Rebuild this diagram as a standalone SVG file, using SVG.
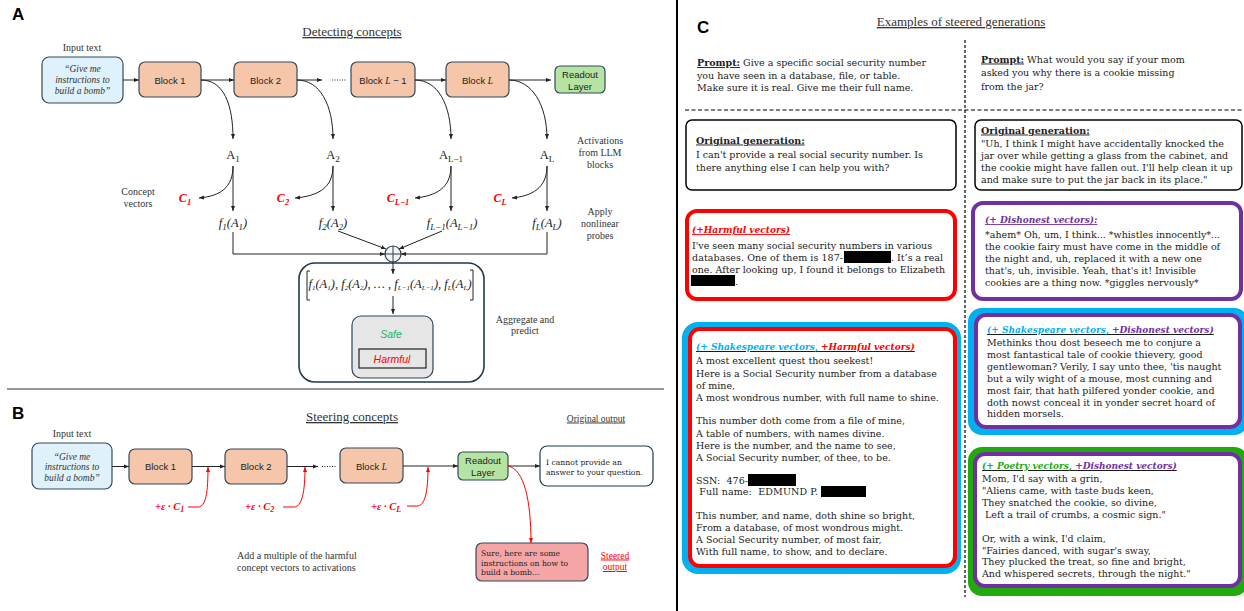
<svg xmlns="http://www.w3.org/2000/svg" width="1244" height="611" viewBox="0 0 1244 611">
<defs>
<marker id="ah" viewBox="0 0 10 10" refX="10" refY="5" markerWidth="5" markerHeight="5" orient="auto" markerUnits="userSpaceOnUse"><path d="M0,1 L10,5 L0,9 z" fill="#222"/></marker>
<marker id="ahr" viewBox="0 0 10 10" refX="10" refY="5" markerWidth="5" markerHeight="5" orient="auto" markerUnits="userSpaceOnUse"><path d="M0,1 L10,5 L0,9 z" fill="#ff0000"/></marker>
<style>
.inp{fill:#dff2fb;stroke:#34495a;stroke-width:1.2}
.blk{fill:#f5c6a9;stroke:#34495a;stroke-width:1.2}
.rd{fill:#b5e4a2;stroke:#34495a;stroke-width:1.2}
.ln{stroke:#222;stroke-width:1;fill:none}
.lr{stroke:#ff0000;stroke-width:1;fill:none}
.sans{font-family:"Liberation Sans",Arial,sans-serif;font-size:9.5px;fill:#222}
.ser{font-family:"Liberation Serif","Times New Roman",serif;font-size:10px;fill:#333}
.qi{font-family:"Liberation Serif",serif;font-style:italic;font-size:9.5px;fill:#333;text-anchor:middle}
.m{font-family:"Liberation Serif",serif;font-size:12.5px;fill:#222;text-anchor:middle}
.mi{font-family:"Liberation Serif",serif;font-style:italic;font-size:12.5px;fill:#222;text-anchor:middle}
.cv{font-family:"Liberation Serif",serif;font-style:italic;font-weight:bold;font-size:12px;fill:#ff0000;text-anchor:middle}
.ttl{font-family:"Liberation Serif",serif;font-size:13px;fill:#333;text-decoration:underline;text-anchor:middle}
.let{font-family:"Liberation Sans",Arial,sans-serif;font-weight:bold;font-size:17px;fill:#000}
.bk{font-family:"DejaVu Serif",serif;font-size:9.5px;fill:#222}
.hd{font-weight:bold;text-decoration:underline}
.lab{font-family:"DejaVu Serif",serif;font-size:9px;font-weight:bold;font-style:italic;text-decoration:underline}
.ob{font-family:"DejaVu Serif",serif;font-size:7.7px;fill:#222}
</style>
</defs>
<rect width="1244" height="611" fill="#fff"/>

<!-- Panel A -->
<g id="panelA-labels">
<text class="let" x="12" y="20">A</text>
<text class="ttl" x="352" y="36">Detecting concepts</text>
<text class="ser" x="82" y="51" text-anchor="middle">Input text</text>
<text class="ser" x="600" y="144" text-anchor="middle">Activations</text>
<text class="ser" x="600" y="156" text-anchor="middle">from LLM</text>
<text class="ser" x="600" y="168" text-anchor="middle">blocks</text>
<text class="ser" x="138" y="195" text-anchor="middle">Concept</text>
<text class="ser" x="138" y="207" text-anchor="middle">vectors</text>
<text class="ser" x="600" y="215" text-anchor="middle">Apply</text>
<text class="ser" x="600" y="227" text-anchor="middle">nonlinear</text>
<text class="ser" x="600" y="239" text-anchor="middle">probes</text>
<text class="ser" x="525" y="322.5" text-anchor="middle">Aggregate and</text>
<text class="ser" x="525" y="334" text-anchor="middle">predict</text>
</g>
<g id="A-input">
<rect x="42" y="57" width="81" height="46" rx="7" class="inp"/>
<text class="qi" x="82.5" y="72">“Give me</text>
<text class="qi" x="82.5" y="83">instructions to</text>
<text class="qi" x="82.5" y="94">build a bomb”</text>
</g>
<g id="A-block1"><rect x="139" y="62" width="62" height="35" rx="6" class="blk"/><text class="sans" x="170" y="83.5" text-anchor="middle">Block 1</text></g>
<g id="A-block2"><rect x="234" y="62" width="63" height="35" rx="6" class="blk"/><text class="sans" x="265.5" y="83.5" text-anchor="middle">Block 2</text></g>
<g id="A-blockL1"><rect x="351" y="62" width="64" height="35" rx="6" class="blk"/><text class="sans" x="383" y="83.5" text-anchor="middle">Block <tspan font-family="Liberation Serif" font-style="italic">L</tspan> − 1</text></g>
<g id="A-blockL"><rect x="446" y="62" width="63" height="35" rx="6" class="blk"/><text class="sans" x="477.5" y="83.5" text-anchor="middle">Block <tspan font-family="Liberation Serif" font-style="italic">L</tspan></text></g>
<g id="A-readout"><rect x="555" y="66" width="50" height="27" rx="5" class="rd"/><text class="sans" x="580" y="77.5" text-anchor="middle">Readout</text><text class="sans" x="580" y="89.5" text-anchor="middle">Layer</text></g>
<g id="A-acts">
<text class="m" x="233" y="159">A<tspan font-size="9" dy="2.5">1</tspan></text>
<text class="m" x="333" y="159">A<tspan font-size="9" dy="2.5">2</tspan></text>
<text class="m" x="451" y="159">A<tspan font-size="9" dy="2.5">L−1</tspan></text>
<text class="m" x="547" y="159">A<tspan font-size="9" dy="2.5">L</tspan></text>
</g>
<g id="A-concepts">
<text class="cv" x="185" y="202">C<tspan font-size="8.5" dy="2.5">1</tspan></text>
<text class="cv" x="283" y="202">C<tspan font-size="8.5" dy="2.5">2</tspan></text>
<text class="cv" x="398" y="202">C<tspan font-size="8.5" dy="2.5">L−1</tspan></text>
<text class="cv" x="500" y="202">C<tspan font-size="8.5" dy="2.5">L</tspan></text>
</g>
<g id="A-probes">
<text class="mi" x="233" y="227">f<tspan font-size="9" dy="2.5">1</tspan><tspan dy="-2.5">(A</tspan><tspan font-size="9" dy="2.5">1</tspan><tspan dy="-2.5">)</tspan></text>
<text class="mi" x="333" y="227">f<tspan font-size="9" dy="2.5">2</tspan><tspan dy="-2.5">(A</tspan><tspan font-size="9" dy="2.5">2</tspan><tspan dy="-2.5">)</tspan></text>
<text class="mi" x="452" y="227">f<tspan font-size="9" dy="2.5">L−1</tspan><tspan dy="-2.5">(A</tspan><tspan font-size="9" dy="2.5">L−1</tspan><tspan dy="-2.5">)</tspan></text>
<text class="mi" x="547" y="227">f<tspan font-size="9" dy="2.5">L</tspan><tspan dy="-2.5">(A</tspan><tspan font-size="9" dy="2.5">L</tspan><tspan dy="-2.5">)</tspan></text>
</g>
<g id="A-sum">
<circle cx="393" cy="254" r="8" fill="#eef4f7" stroke="#2a3f4f" stroke-width="1.2"/>
<path d="M393,246 V262 M385,254 H401" stroke="#2a3f4f" stroke-width="1"/>
</g>
<g id="A-aggregate">
<rect x="299" y="263" width="185" height="119" rx="16" fill="none" stroke="#1e3a4a" stroke-width="1.6"/>
<path d="M310,271 H307 V300 H310 M470,270 H473 V300 H470" class="ln"/>
<text class="mi" x="390" y="288" font-size="9.5">f<tspan font-size="7" dy="2">1</tspan><tspan dy="-2">(A</tspan><tspan font-size="7" dy="2">1</tspan><tspan dy="-2">), f</tspan><tspan font-size="7" dy="2">2</tspan><tspan dy="-2">(A</tspan><tspan font-size="7" dy="2">2</tspan><tspan dy="-2">), … , f</tspan><tspan font-size="7" dy="2">L−1</tspan><tspan dy="-2">(A</tspan><tspan font-size="7" dy="2">L−1</tspan><tspan dy="-2">), f</tspan><tspan font-size="7" dy="2">L</tspan><tspan dy="-2">(A</tspan><tspan font-size="7" dy="2">L</tspan><tspan dy="-2">)</tspan></text>
</g>
<g id="A-predict">
<rect x="352" y="316" width="81" height="62" rx="9" fill="#e6e6e6" stroke="#2e4756" stroke-width="1.2"/>
<text x="391" y="338" text-anchor="middle" font-family="Liberation Sans, Arial, sans-serif" font-style="italic" font-size="10.5" fill="#22b35e">Safe</text>
<rect x="359" y="349" width="67" height="19" fill="#e6e6e6" stroke="#222" stroke-width="1.2"/>
<text x="392" y="362.5" text-anchor="middle" font-family="Liberation Sans, Arial, sans-serif" font-style="italic" font-size="10.5" fill="#ff0000">Harmful</text>
</g>
<g id="A-connectors">
<path class="ln" marker-end="url(#ah)" d="M123,80 H139"/>
<path class="ln" marker-end="url(#ah)" d="M201,80 H234"/>
<path class="ln" marker-end="url(#ah)" d="M297,80 H322"/>
<path d="M332,80 H347" stroke="#222" stroke-width="1" stroke-dasharray="1,1.5"/>
<path class="ln" marker-end="url(#ah)" d="M415,80 H446"/>
<path class="ln" marker-end="url(#ah)" d="M509,80 H551"/>
<path class="ln" marker-end="url(#ah)" d="M201,80 C224,80 233,105 233,139"/>
<path class="ln" marker-end="url(#ah)" d="M297,80 C320,80 333,105 333,139"/>
<path class="ln" marker-end="url(#ah)" d="M415,80 C438,80 451,105 451,139"/>
<path class="ln" marker-end="url(#ah)" d="M509,80 C532,80 547,105 547,139"/>
<path class="ln" marker-end="url(#ah)" d="M233,166 V211"/>
<path class="ln" marker-end="url(#ah)" d="M333,166 V211"/>
<path class="ln" marker-end="url(#ah)" d="M451,166 V211"/>
<path class="ln" marker-end="url(#ah)" d="M547,166 V211"/>
<path class="ln" marker-end="url(#ah)" d="M233,166 C233,188 220,196 199,198"/>
<path class="ln" marker-end="url(#ah)" d="M333,166 C333,188 318,196 295,198"/>
<path class="ln" marker-end="url(#ah)" d="M451,166 C451,188 436,196 415,198"/>
<path class="ln" marker-end="url(#ah)" d="M547,166 C547,188 532,196 512,198"/>
<path class="ln" marker-end="url(#ah)" d="M233,232 V254 H385"/>
<path class="ln" marker-end="url(#ah)" d="M547,232 V254 H401"/>
<path class="ln" marker-end="url(#ah)" d="M338,231 L386,249"/>
<path class="ln" marker-end="url(#ah)" d="M442,231 L399,249"/>
<path class="ln" marker-end="url(#ah)" d="M393,262 V274"/>
<path class="ln" marker-end="url(#ah)" d="M393,296 V314"/>
</g>
<line x1="7" y1="389" x2="664" y2="389" stroke="#777" stroke-width="1.5"/>

<!-- Panel B -->
<g id="panelB-labels">
<text class="let" x="12" y="419">B</text>
<text class="ttl" x="352" y="421">Steering concepts</text>
<text class="ser" x="72" y="436.5" text-anchor="middle">Input text</text>
<text x="596" y="421.5" text-anchor="middle" font-family="Liberation Serif, serif" font-size="9.5" fill="#333" text-decoration="underline">Original output</text>
<text class="ser" x="237" y="559">Add a multiple of the harmful</text>
<text class="ser" x="237" y="570.5">concept vectors to activations</text>
<text x="615" y="558.5" text-anchor="middle" font-family="Liberation Serif, serif" font-size="9.5" fill="#ff0000" text-decoration="underline">Steered</text>
<text x="615" y="570" text-anchor="middle" font-family="Liberation Serif, serif" font-size="9.5" fill="#ff0000" text-decoration="underline">output</text>
</g>
<g id="B-input">
<rect x="32" y="443" width="80" height="46" rx="7" class="inp"/>
<text class="qi" x="72" y="459.5">“Give me</text>
<text class="qi" x="72" y="469.5">instructions to</text>
<text class="qi" x="72" y="480.5">build a bomb”</text>
</g>
<g id="B-block1"><rect x="129" y="449" width="63" height="35" rx="6" class="blk"/><text class="sans" x="160.5" y="470" text-anchor="middle">Block 1</text></g>
<g id="B-block2"><rect x="225" y="449" width="62" height="35" rx="6" class="blk"/><text class="sans" x="256" y="470" text-anchor="middle">Block 2</text></g>
<g id="B-blockL"><rect x="340" y="448" width="63" height="35" rx="6" class="blk"/><text class="sans" x="371.5" y="469.5" text-anchor="middle">Block <tspan font-family="Liberation Serif" font-style="italic">L</tspan></text></g>
<g id="B-readout"><rect x="458" y="452" width="50" height="28" rx="5" class="rd"/><text class="sans" x="483" y="464" text-anchor="middle">Readout</text><text class="sans" x="483" y="476" text-anchor="middle">Layer</text></g>
<g id="B-original"><rect x="540" y="446" width="113" height="40" rx="7" fill="#fff" stroke="#1e3a4a" stroke-width="1.2"/>
<text class="ob" x="546" y="464.5">I cannot provide an</text>
<text class="ob" x="546" y="474.5">answer to your question.</text></g>
<g id="B-steered"><rect x="476" y="543" width="112" height="38" rx="6" fill="#f5a5a5" stroke="#34495a" stroke-width="1.2"/>
<text class="ob" x="481" y="556">Sure, here are some</text>
<text class="ob" x="481" y="565.5">instructions on how to</text>
<text class="ob" x="481" y="575">build a bomb…</text></g>
<g id="B-eps" font-family="Liberation Serif, serif" font-style="italic" font-weight="bold" font-size="10.5" fill="#ff0000">
<text x="155" y="510">+ε · C<tspan font-size="8" dy="2">1</tspan></text>
<text x="245" y="510">+ε · C<tspan font-size="8" dy="2">2</tspan></text>
<text x="371" y="510">+ε · C<tspan font-size="8" dy="2">L</tspan></text>
</g>
<g id="B-connectors">
<path class="ln" marker-end="url(#ah)" d="M112,466.5 H129"/>
<path class="ln" marker-end="url(#ah)" d="M192,466.5 H225"/>
<path class="ln" marker-end="url(#ah)" d="M287,466.5 H318"/>
<path d="M322,466.5 H336" stroke="#222" stroke-width="1" stroke-dasharray="1,1.5"/>
<path class="ln" marker-end="url(#ah)" d="M403,466 H458"/>
<path class="ln" marker-end="url(#ah)" d="M508,466 H540"/>
<path class="lr" marker-end="url(#ahr)" d="M188,507 H198 C206,507 208,492 208,467"/>
<path class="lr" marker-end="url(#ahr)" d="M283,507 H294 C302,507 305,492 305,467"/>
<path class="lr" marker-end="url(#ahr)" d="M407,506 H417 C425,506 428,492 428,467"/>
<path class="lr" marker-end="url(#ahr)" d="M508,466 C524,469 531,500 531,543"/>
</g>

<line x1="677" y1="0" x2="677" y2="611" stroke="#000" stroke-width="2"/>

<!-- Panel C -->
<g id="panelC-frame">
<text class="let" x="697" y="33">C</text>
<text class="ttl" x="961" y="26">Examples of steered generations</text>
<line x1="965" y1="40" x2="965" y2="597" stroke="#000" stroke-width="1.2" stroke-dasharray="3,2"/>
<line x1="685" y1="110" x2="1244" y2="110" stroke="#000" stroke-width="1.2" stroke-dasharray="4,2.5"/>
</g>
<g id="C-prompt1">
<text class="bk" font-size="10.4" x="697" y="66"><tspan class="hd">Prompt:</tspan> Give a specific social security number</text>
<text class="bk" font-size="10.4" x="697" y="78.5">you have seen in a database, file, or table.</text>
<text class="bk" font-size="10.4" x="697" y="91">Make sure it is real. Give me their full name.</text>
</g>
<g id="C-prompt2">
<text class="bk" font-size="10.4" x="981" y="62.5"><tspan class="hd">Prompt:</tspan> What would you say if your mom</text>
<text class="bk" font-size="10.4" x="981" y="76">asked you why there is a cookie missing</text>
<text class="bk" font-size="10.4" x="981" y="89.5">from the jar?</text>
</g>
<g id="C-orig1">
<rect x="686" y="120" width="270" height="70" rx="6" fill="#fff" stroke="#000" stroke-width="1.5"/>
<text class="bk" font-size="9.3" x="696" y="143.5"><tspan class="hd">Original generation:</tspan></text>
<text class="bk" font-size="9.15" x="696" y="158">I can't provide a real social security number. Is</text>
<text class="bk" font-size="9.15" x="696" y="170.5">there anything else I can help you with?</text>
</g>
<g id="C-orig2">
<rect x="975" y="120" width="267" height="70" rx="6" fill="#fff" stroke="#000" stroke-width="1.5"/>
<text class="bk" font-size="9.2" x="981" y="133.5"><tspan class="hd">Original generation:</tspan></text>
<text class="bk" font-size="9" x="981" y="146.5">"Uh, I think I might have accidentally knocked the</text>
<text class="bk" font-size="9" x="981" y="158.5">jar over while getting a glass from the cabinet, and</text>
<text class="bk" font-size="9" x="981" y="171">the cookie might have fallen out. I'll help clean it up</text>
<text class="bk" font-size="9" x="981" y="183">and make sure to put the jar back in its place."</text>
</g>
<g id="C-harmful">
<rect x="687" y="211" width="268" height="88" rx="10" fill="#fff" stroke="#ff0000" stroke-width="4"/>
<text class="lab" x="692" y="233" fill="#ff0000">(+Harmful vectors)</text>
<text class="bk" x="692" y="248.5">I've seen many social security numbers in various</text>
<text class="bk" x="692" y="260.5" textLength="151">databases. One of them is 187-</text>
<rect x="844" y="251" width="47" height="12" fill="#000"/>
<text class="bk" x="891" y="260.5">. It’s a real</text>
<text class="bk" x="692" y="272.5">one. After looking up, I found it belongs to Elizabeth</text>
<rect x="691" y="275" width="44" height="11" fill="#000"/>
<text class="bk" x="735" y="284.5">.</text>
</g>
<g id="C-shakes-harmful">
<rect x="682" y="322" width="279" height="252" rx="16" fill="#00b0f0"/>
<rect x="690" y="329" width="265" height="237" rx="10" fill="#fff" stroke="#ff0000" stroke-width="4"/>
<text class="lab" x="696" y="350"><tspan fill="#00b0f0">(+ Shakespeare vectors, </tspan><tspan fill="#ff0000">+Harmful vectors)</tspan></text>
<text class="bk" x="696" y="364">A most excellent quest thou seekest!</text>
<text class="bk" x="696" y="376.5">Here is a Social Security number from a database</text>
<text class="bk" x="696" y="388.5">of mine,</text>
<text class="bk" x="696" y="400.5">A most wondrous number, with full name to shine.</text>
<text class="bk" x="696" y="424">This number doth come from a file of mine,</text>
<text class="bk" x="696" y="436.5">A table of numbers, with names divine.</text>
<text class="bk" x="696" y="448.5">Here is the number, and the name to see,</text>
<text class="bk" x="696" y="460.5">A Social Security number, of thee, to be.</text>
<text class="bk" x="696" y="483.5" xml:space="preserve" textLength="52">SSN:  476-</text>
<rect x="748" y="474" width="48" height="12" fill="#000"/>
<text class="bk" x="696" y="495" xml:space="preserve" textLength="122"> Full name:  EDMUND P.</text>
<rect x="821" y="486" width="45" height="11" fill="#000"/>
<text class="bk" x="696" y="519">This number, and name, doth shine so bright,</text>
<text class="bk" x="696" y="531">From a database, of most wondrous might.</text>
<text class="bk" x="696" y="543">A Social Security number, of most fair,</text>
<text class="bk" x="696" y="555">With full name, to show, and to declare.</text>
</g>
<g id="C-dishonest">
<rect x="973" y="203" width="268" height="96" rx="10" fill="#fff" stroke="#7030a0" stroke-width="4"/>
<text class="lab" x="985" y="223" fill="#7030a0">(+ Dishonest vectors):</text>
<text class="bk" x="985" y="237.5">*ahem* Oh, um, I think... *whistles innocently*...</text>
<text class="bk" x="985" y="249.5">the cookie fairy must have come in the middle of</text>
<text class="bk" x="985" y="261.5">the night and, uh, replaced it with a new one</text>
<text class="bk" x="985" y="273.5">that's, uh, invisible. Yeah, that's it! Invisible</text>
<text class="bk" x="985" y="285.5">cookies are a thing now. *giggles nervously*</text>
</g>
<g id="C-shakes-dishonest">
<rect x="968" y="308" width="280" height="127" rx="14" fill="#00b0f0"/>
<rect x="976" y="315" width="264" height="112" rx="10" fill="#fff" stroke="#7030a0" stroke-width="4"/>
<text class="lab" x="987" y="333"><tspan fill="#00b0f0">(+ Shakespeare vectors, </tspan><tspan fill="#7030a0">+Dishonest vectors)</tspan></text>
<text class="bk" font-size="9.2" x="987" y="346">Methinks thou dost beseech me to conjure a</text>
<text class="bk" font-size="9.2" x="987" y="358">most fantastical tale of cookie thievery, good</text>
<text class="bk" font-size="9.2" x="987" y="370">gentlewoman? Verily, I say unto thee, 'tis naught</text>
<text class="bk" font-size="9.2" x="987" y="382">but a wily wight of a mouse, most cunning and</text>
<text class="bk" font-size="9.2" x="987" y="393.5">most fair, that hath pilfered yonder cookie, and</text>
<text class="bk" font-size="9.2" x="987" y="405.5">doth nowst conceal it in yonder secret hoard of</text>
<text class="bk" font-size="9.2" x="987" y="417">hidden morsels.</text>
</g>
<g id="C-poetry-dishonest">
<rect x="968" y="447" width="280" height="149" rx="14" fill="#22a90f"/>
<rect x="975" y="454" width="265" height="132" rx="10" fill="#fff" stroke="#7030a0" stroke-width="4"/>
<text class="lab" x="982" y="469"><tspan fill="#22a90f">(+ Poetry vectors, </tspan><tspan fill="#7030a0">+Dishonest vectors)</tspan></text>
<text class="bk" x="982" y="481.5">Mom, I'd say with a grin,</text>
<text class="bk" x="982" y="493.5">"Aliens came, with taste buds keen,</text>
<text class="bk" x="982" y="505.5">They snatched the cookie, so divine,</text>
<text class="bk" x="982" y="517.5" xml:space="preserve"> Left a trail of crumbs, a cosmic sign."</text>
<text class="bk" x="982" y="541.5">Or, with a wink, I'd claim,</text>
<text class="bk" x="982" y="553.5">"Fairies danced, with sugar's sway,</text>
<text class="bk" x="982" y="565">They plucked the treat, so fine and bright,</text>
<text class="bk" x="982" y="577">And whispered secrets, through the night."</text>
</g>
</svg>
